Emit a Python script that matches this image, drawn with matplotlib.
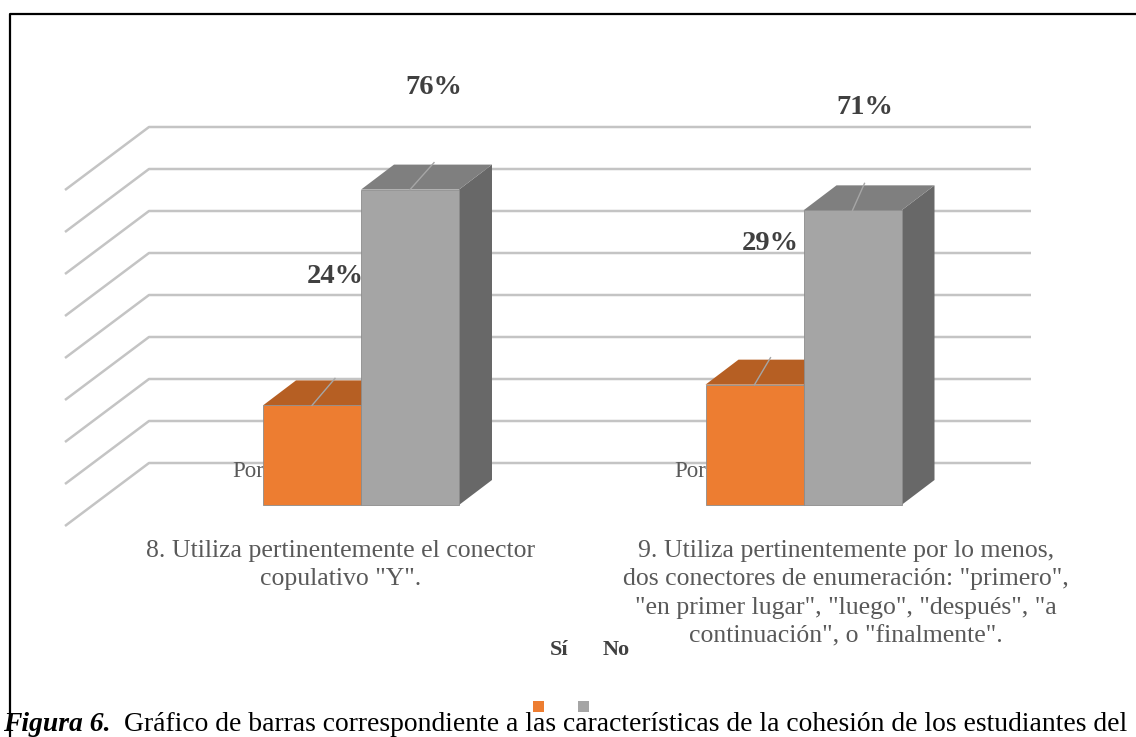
import matplotlib
matplotlib.use("Agg")
import matplotlib.pyplot as plt
from matplotlib.patches import Polygon, Rectangle

# datos del gráfico
CATEGORIES = [
    '8. Utiliza pertinentemente el conector\ncopulativo "Y".',
    '9. Utiliza pertinentemente por lo menos,\ndos conectores de enumeración: "primero",\n'
    '"en primer lugar", "luego", "después", "a\ncontinuación", o "finalmente".',
]
SERIES = ["Sí", "No"]
SI = [24, 29]
NO = [76, 71]
GRID = [0, 10, 20, 30, 40, 50, 60, 70, 80]
AXIS_TITLE = "Porcentaje"
CAPTION_BOLD = "Figura 6."
CAPTION = "Gráfico de barras correspondiente a las características de la cohesión de los estudiantes del"

# geometría (pixeles)
W, H, DPI = 1136, 737, 100
K = 4.15            # px por punto porcentual
BASE = 505          # y del 0 en la cara frontal
G0, GSTEP, BW = 361, 442.5, 98
DX, DY = 33, 25 / K
WALL_X0, WALL_X1, SIDE_X = 149, 1031, 65
WALL_BASE = (BASE - 463) / K
WALL_STEP = 4.2 / K
SIDE_DROP = 63 / K
LABEL_DX = [[23, 24], [16, 12]]
LABEL_LIFT = [[31, 24.5], [34, 24.7]]
CAT_X = [341, 846]

FRONT = ["#ed7d31", "#a5a5a5"]
TOP = ["#b65f23", "#7f7f7f"]
SIDE = ["#b05a1e", "#686868"]
SERIF = ["Liberation Serif", "DejaVu Serif"]

fig = plt.figure(figsize=(W / DPI, H / DPI), dpi=DPI)
ax = fig.add_axes([0, 0, 1, 1])
ax.set_xlim(0, W)
ax.set_ylim(-(H - BASE) / K, BASE / K)
ax.axis("off")


def fxy(x, y):
    return x / W, 1 - y / H


# marco
ax.plot([10, 10, W], [-(H - BASE) / K, (BASE - 14) / K, (BASE - 14) / K],
        color="black", lw=1.6, zorder=10, clip_on=False)

# líneas de la pared y del lateral
for g in GRID:
    v = WALL_BASE + g * WALL_STEP
    ax.plot([SIDE_X, WALL_X0, WALL_X1], [v - SIDE_DROP, v, v],
            color="#c4c4c4", lw=1.8, zorder=1, solid_capstyle="butt")

values = [SI, NO]
for i in range(len(CATEGORIES)):
    gx = G0 + i * GSTEP
    ax.text(gx - 129, (BASE - 471) / K, AXIS_TITLE, family=SERIF, fontsize=16.5,
            color="#595959", va="center", ha="left", zorder=2)
    for s in range(len(SERIES)):
        v = values[s][i]
        x0 = gx - BW + s * BW
        z = 3 + s
        ax.add_patch(Polygon([(x0 + BW, 0), (x0 + BW + DX, DY), (x0 + BW + DX, v + DY), (x0 + BW, v)],
                             closed=True, facecolor=SIDE[s], edgecolor="none", zorder=z))
        ax.add_patch(Polygon([(x0, v), (x0 + BW, v), (x0 + BW + DX, v + DY), (x0 + DX, v + DY)],
                             closed=True, facecolor=TOP[s], edgecolor="none", zorder=z))
        ax.add_patch(Rectangle((x0, 0), BW, v, facecolor=FRONT[s], edgecolor="#8c8c8c",
                               lw=0.6, zorder=z))
        cx = x0 + BW / 2
        lx = cx + LABEL_DX[i][s]
        ax.plot([cx, lx], [v, v + 6.5], color="#a6a6a6", lw=1.0, zorder=6)
        ax.text(lx, v + LABEL_LIFT[i][s], f"{v}%", family=SERIF, fontsize=20.5,
                fontweight="bold", color="#404040", ha="center", va="center", zorder=7)

# etiquetas de categoría
for i, cat in enumerate(CATEGORIES):
    fig.text(*fxy(CAT_X[i], 540), cat, family=SERIF, fontsize=18.5, color="#595959",
             ha="center", va="top", linespacing=1.38)

# leyenda
leg_text_x = [559, 616]
leg_box_x = [538, 583]
for s, name in enumerate(SERIES):
    fig.text(*fxy(leg_text_x[s], 650), name, family=SERIF, fontsize=16, fontweight="bold",
             color="#404040", ha="center", va="center")
    fig.patches.append(Rectangle(fxy(leg_box_x[s] - 5, 712), 11 / W, 11 / H,
                                 transform=fig.transFigure, facecolor=FRONT[s],
                                 edgecolor="none"))

# pie de figura
t = fig.text(*fxy(3, 731), CAPTION_BOLD, family=SERIF, fontsize=19.9, fontweight="bold",
             fontstyle="italic", color="black", ha="left", va="baseline")
fig.canvas.draw()
bb = t.get_window_extent()
fig.text(bb.x1 / W + 14 / W, 1 - 731 / H, CAPTION, family=SERIF, fontsize=19.9,
         color="black", ha="left", va="baseline")

fig.savefig("out.png", dpi=DPI)
